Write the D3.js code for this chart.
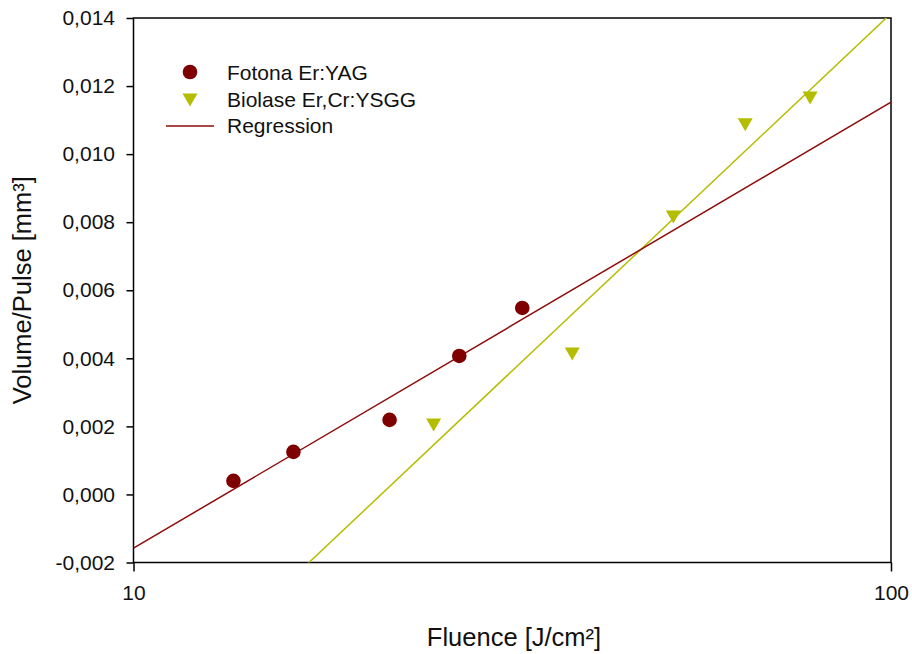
<!DOCTYPE html>
<html>
<head>
<meta charset="utf-8">
<script src="https://cdn.jsdelivr.net/npm/d3@7"></script>
<style>
  html, body { margin: 0; padding: 0; background: #fff; }
  svg { display: block; font-family: "Liberation Sans", Arial, sans-serif; }
</style>
</head>
<body>
<svg id="chart" width="912" height="654"></svg>
<script>
// Ablation volume per pulse against fluence for two erbium lasers
const fotonaFluence = [13.55, 16.26, 21.78, 26.92, 32.6];
const fotonaVolume  = [0.00040, 0.00125, 0.00219, 0.00407, 0.00548];
const biolaseFluence = [24.9, 37.95, 51.6, 64.2, 78.2];
const biolaseVolume  = [0.00204, 0.00413, 0.00815, 0.01086, 0.01165];
const xTicks = [10, 100];
const yTicks = [-0.002, 0, 0.002, 0.004, 0.006, 0.008, 0.010, 0.012, 0.014];
const legendLabels = ["Fotona Er:YAG", "Biolase Er,Cr:YSGG", "Regression"];

const redDot = "#7f0000";
const redLine = "#8e0b0b";
const olive = "#b5bd00";

const svg = d3.select("#chart");
const plotL = 133.5, plotR = 891, plotT = 18, plotB = 562.5;

const x = d3.scaleLog().domain([10, 100]).range([plotL, plotR]);
const y = d3.scaleLinear().domain([-0.002, 0.014]).range([plotB, plotT]);

const locale = d3.formatLocale({ decimal: ",", thousands: ".", grouping: [3], currency: ["", ""], minus: "-" });
const yFmt = locale.format(".3f");

// least-squares fit of volume against log10(fluence)
function fitLog(fs, vs) {
  const lx = fs.map(Math.log10);
  const mx = d3.mean(lx), my = d3.mean(vs);
  let sxy = 0, sxx = 0;
  lx.forEach((v, i) => { sxy += (v - mx) * (vs[i] - my); sxx += (v - mx) * (v - mx); });
  const b = sxy / sxx;
  return f => my + b * (Math.log10(f) - mx);
}
const fotonaFit = fitLog(fotonaFluence, fotonaVolume);
const biolaseFit = fitLog(biolaseFluence, biolaseVolume);

svg.append("clipPath").attr("id", "plotClip")
  .append("rect").attr("x", plotL).attr("y", plotT).attr("width", plotR - plotL).attr("height", plotB - plotT);

// axes
const yAxis = svg.append("g").attr("transform", `translate(${plotL},0)`)
  .call(d3.axisLeft(y).tickValues(yTicks).tickFormat(yFmt).tickSize(7).tickSizeOuter(0).tickPadding(11.5));
const xAxis = svg.append("g").attr("transform", `translate(0,${plotB})`)
  .call(d3.axisBottom(x).tickValues(xTicks).tickFormat(d3.format("d")).tickSize(9).tickSizeOuter(0).tickPadding(14));
[yAxis, xAxis].forEach(g => {
  g.select(".domain").remove();
  g.selectAll("line").attr("stroke", "#000").attr("stroke-width", 1.5);
  g.selectAll("text").attr("fill", "#111").style("font-size", "21px").style("font-family", "'Liberation Sans', Arial, sans-serif");
});

// plot frame
svg.append("rect").attr("x", plotL).attr("y", plotT).attr("width", plotR - plotL).attr("height", plotB - plotT)
  .attr("fill", "none").attr("stroke", "#000").attr("stroke-width", 1.5);

const plot = svg.append("g").attr("clip-path", "url(#plotClip)");
const fitDomain = x.domain();
const line = fn => d3.line().x(d => x(d)).y(d => y(fn(d)))(fitDomain);

plot.append("path").attr("d", line(biolaseFit)).attr("fill", "none").attr("stroke", olive).attr("stroke-width", 1.5);
plot.append("path").attr("d", line(fotonaFit)).attr("fill", "none").attr("stroke", redLine).attr("stroke-width", 1.5);

const tri = "M-7.5,-6.5L7.5,-6.5L0,6.5Z";

svg.append("g").selectAll("circle").data(d3.zip(fotonaFluence, fotonaVolume)).join("circle")
  .attr("cx", d => x(d[0])).attr("cy", d => y(d[1])).attr("r", 7.3).attr("fill", redDot);
svg.append("g").selectAll("path").data(d3.zip(biolaseFluence, biolaseVolume)).join("path")
  .attr("d", tri).attr("transform", d => `translate(${x(d[0])},${y(d[1])})`).attr("fill", olive);

// legend
const lg = svg.append("g");
lg.append("circle").attr("cx", 190).attr("cy", 72).attr("r", 7.3).attr("fill", redDot);
lg.append("path").attr("d", tri).attr("transform", "translate(190,100)").attr("fill", olive);
lg.append("line").attr("x1", 166).attr("x2", 214).attr("y1", 126).attr("y2", 126).attr("stroke", redLine).attr("stroke-width", 1.5);
lg.selectAll("text").data(legendLabels).join("text")
  .attr("x", 227).attr("y", (d, i) => 80 + i * 26.5)
  .attr("fill", "#111").style("font-size", "21px").text(d => d);

// axis titles
svg.append("text").attr("x", 514).attr("y", 646).attr("text-anchor", "middle")
  .attr("fill", "#111").style("font-size", "25.5px").text("Fluence [J/cm²]");
svg.append("text").attr("transform", `translate(31,${(plotT + plotB) / 2}) rotate(-90)`).attr("text-anchor", "middle")
  .attr("fill", "#111").style("font-size", "25.5px").text("Volume/Pulse [mm³]");
</script>
</body>
</html>
